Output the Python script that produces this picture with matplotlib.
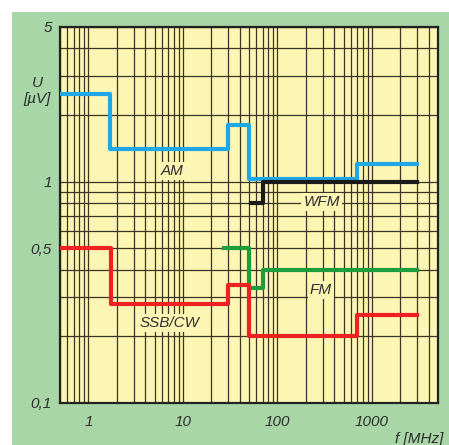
import numpy as np
import matplotlib
matplotlib.use('Agg')
from matplotlib import pyplot as plt
from matplotlib.patches import Rectangle
from matplotlib.ticker import LogLocator, FixedLocator, NullFormatter

plt.rcParams['font.family'] = ['Liberation Sans', 'DejaVu Sans']
plt.rcParams['font.style'] = 'italic'

# step edges in MHz, levels in microvolts (held to the last edge)
am_f = [0.5, 1.7, 30, 50, 700, 3000]
am_u = [2.5, 1.4, 1.8, 1.03, 1.2, 1.2]

wfm_f = [52, 70, 3000]
wfm_u = [0.8, 1.0, 1.0]

fm_f = [27, 50, 70, 3000]
fm_u = [0.5, 0.33, 0.4, 0.4]

ssb_f = [0.5, 1.75, 30, 50, 700, 3000]
ssb_u = [0.5, 0.28, 0.34, 0.2, 0.25, 0.25]

x_ticks = [1, 10, 100, 1000]
x_labels = ['1', '10', '100', '1000']
y_ticks = [0.1, 0.5, 1, 5]
y_labels = ['0,1', '0,5', '1', '5']

green_bg = '#a8d6a6'
yellow = '#fdf5b4'
text_col = '#2e2e2e'

W, H = 449, 445
fig = plt.figure(figsize=(W / 100, H / 100), dpi=100)
fig.patch.set_facecolor('white')
fig.patches.append(Rectangle((12 / W, 0), 1 - 12 / W, 1 - 12 / H,
                             transform=fig.transFigure, facecolor=green_bg,
                             edgecolor='none', zorder=-10))

ax = fig.add_axes([60 / W, (H - 403) / H, (438 - 60) / W, (403 - 27) / H])
ax.set_facecolor(yellow)
ax.set_xscale('log')
ax.set_yscale('log')
ax.set_xlim(0.5, 5000)
ax.set_ylim(0.1, 5)

ax.xaxis.set_major_locator(FixedLocator(x_ticks))
ax.yaxis.set_major_locator(FixedLocator(y_ticks))
ax.set_xticklabels(x_labels)
ax.set_yticklabels(y_labels)
ax.xaxis.set_minor_locator(LogLocator(base=10, subs=np.arange(1, 10), numticks=30))
ax.yaxis.set_minor_locator(LogLocator(base=10, subs=np.arange(1, 10), numticks=30))
ax.xaxis.set_minor_formatter(NullFormatter())
ax.yaxis.set_minor_formatter(NullFormatter())
ax.tick_params(which='both', length=0, labelsize=11, labelcolor=text_col)
ax.tick_params(axis='x', pad=9)
ax.tick_params(axis='y', pad=6)
ax.grid(which='both', color='#3a3524', linewidth=0.9)
ax.set_axisbelow(True)
for sp in ax.spines.values():
    sp.set_linewidth(1.6)
    sp.set_color('#222222')

lw = 3.0
ax.step(am_f, am_u, where='post', color='#1ea8e6', lw=lw, zorder=3)
ax.step(wfm_f, wfm_u, where='post', color='#1a1a1a', lw=lw, zorder=4)
ax.step(fm_f, fm_u, where='post', color='#1c9e3c', lw=lw, zorder=3)
ax.step(ssb_f, ssb_u, where='post', color='#ee2222', lw=lw, zorder=3)

box = dict(facecolor=yellow, edgecolor='none', pad=1.5)
for txt, fx, uy in [('AM', 7.7, 1.12), ('WFM', 294, 0.81),
                    ('FM', 287, 0.324), ('SSB/CW', 7.2, 0.23)]:
    ax.text(fx, uy, txt, ha='center', va='center', fontsize=11,
            color=text_col, bbox=box, zorder=2)

fig.text(37 / W, 1 - 91 / H, 'U\n[µV]', ha='center', va='center',
         fontsize=11, color=text_col, linespacing=1.25)
fig.text(443 / W, 1.5 / H, 'f [MHz]', ha='right', va='baseline',
         fontsize=11, color=text_col)

fig.savefig('out.png', dpi=100, facecolor=fig.get_facecolor())
